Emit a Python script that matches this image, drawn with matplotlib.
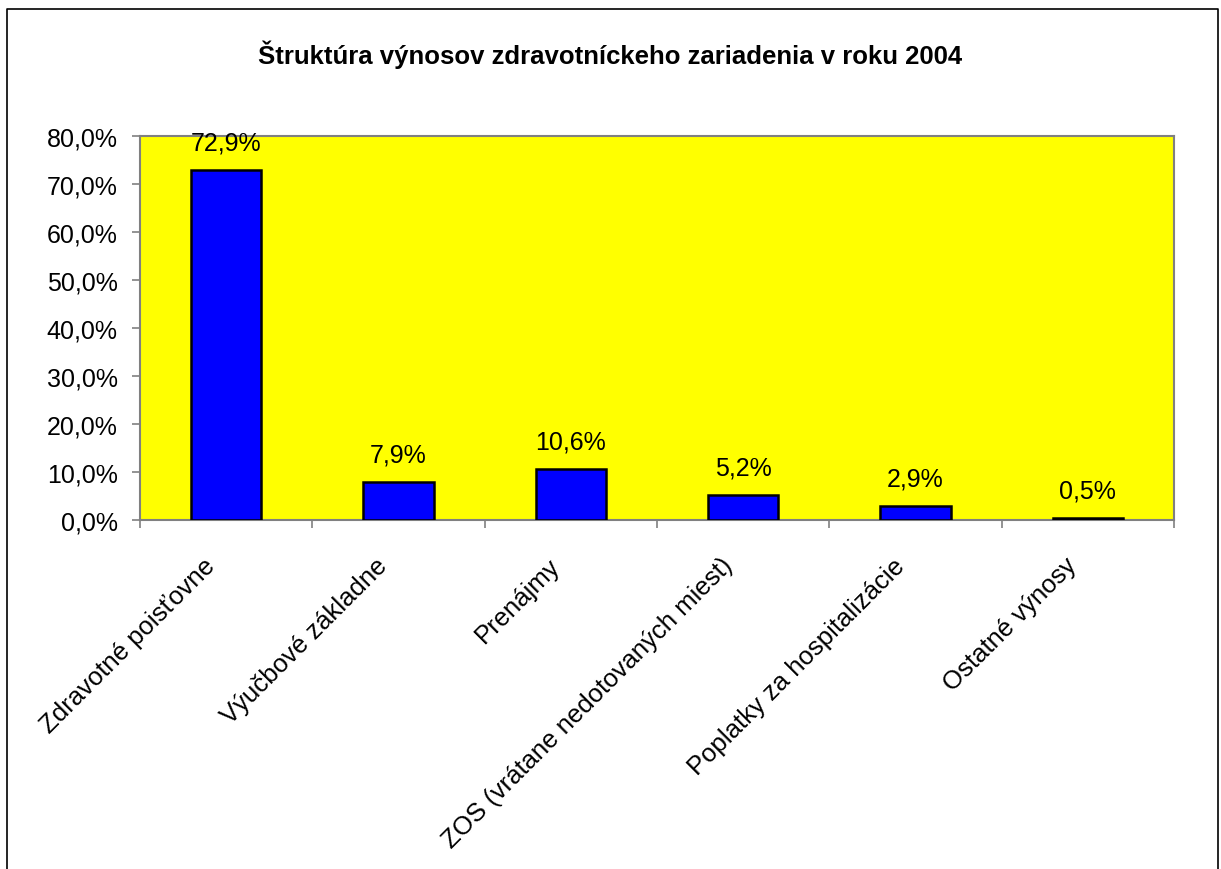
import matplotlib.pyplot as plt
from matplotlib.lines import Line2D
from matplotlib.transforms import ScaledTranslation

plt.rcParams['font.family'] = ['Liberation Sans', 'DejaVu Sans']

categories = ["Zdravotné poisťovne", "Výučbové základne", "Prenájmy",
              "ZOS (vrátane nedotovaných miest)", "Poplatky za hospitalizácie",
              "Ostatné výnosy"]
values = [72.9, 7.9, 10.6, 5.2, 2.9, 0.5]
yticks = [0, 10, 20, 30, 40, 50, 60, 70, 80]

fig = plt.figure(figsize=(12.21, 8.70), dpi=100)
ax = fig.add_axes([140 / 1221, 1 - 521 / 870, (1174 - 140) / 1221, (521 - 137) / 870])
ax.set_facecolor("#FFFF00")

x = list(range(len(categories)))
ax.bar(x, values, width=0.41, color="#0000FF", edgecolor="black", linewidth=1.8, zorder=3)
for xi, v in zip(x, values):
    ax.annotate(f"{v:.1f}%".replace(".", ","), (xi, v), xytext=(0, 11),
                textcoords="offset points", ha="center", va="bottom", fontsize=18)

ax.set_xlim(-0.5, len(categories) - 0.5)
ax.set_ylim(0, 80)
ax.set_yticks(yticks)
ax.set_yticklabels([f"{t:.1f}%".replace(".", ",") for t in yticks], fontsize=18)
ax.set_xticks([i - 0.5 for i in range(len(categories) + 1)])
ax.set_xticklabels([])
ax.tick_params(axis="both", which="major", length=6, color="#808080", width=1.2)
ax.tick_params(axis="y", pad=10)
for s in ax.spines.values():
    s.set_color("#808080")
    s.set_linewidth(1.5)

# rotated category labels
lbl_tr = ax.get_xaxis_transform() + ScaledTranslation(-0.23, -0.33, fig.dpi_scale_trans)
for xi, cat in zip(x, categories):
    ax.text(xi, 0, cat, transform=lbl_tr, rotation=45, rotation_mode="anchor",
            ha="right", va="top", fontsize=18.5)

fig.text(0.5, 1 - 55 / 870, "Štruktúra výnosov zdravotníckeho zariadenia v roku 2004",
         ha="center", va="center", fontsize=18.5, fontweight="bold")

# chart border (cut at the bottom)
fig.add_artist(Line2D([7 / 1221, 7 / 1221, 1218 / 1221, 1218 / 1221],
                      [0, 1 - 10 / 870, 1 - 10 / 870, 0], color="black", linewidth=1.2))

fig.savefig("out.png", dpi=100)
